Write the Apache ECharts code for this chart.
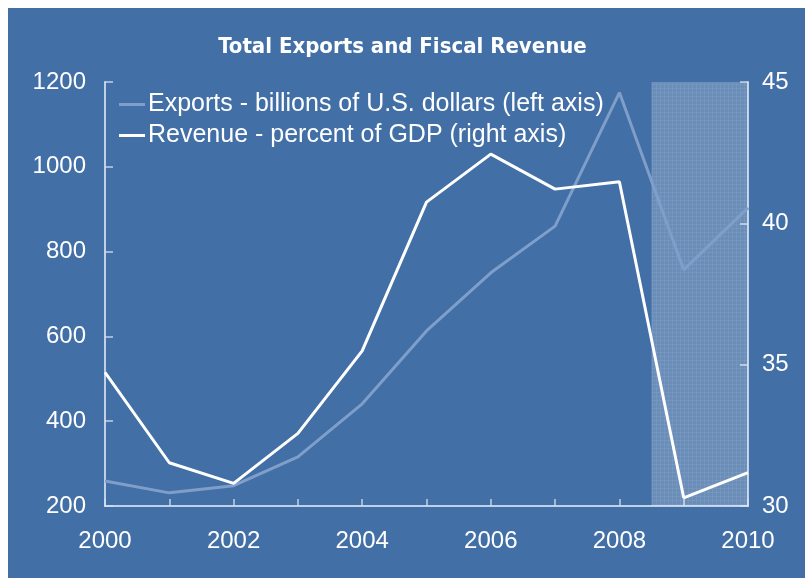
<!DOCTYPE html>
<html>
<head>
<meta charset="utf-8">
<script src="https://cdn.jsdelivr.net/npm/echarts@6/dist/echarts.min.js"></script>
<style>
  html, body { margin: 0; padding: 0; background: #ffffff; }
  #chart { width: 805px; height: 578px; }
</style>
</head>
<body>
<div id="chart"></div>
<script>
// Years on the horizontal axis
const years = [2000, 2001, 2002, 2003, 2004, 2005, 2006, 2007, 2008, 2009, 2010];
// Exports, billions of U.S. dollars (left axis)
const exportsBn = [259, 231, 248, 316, 441, 613, 750, 860, 1175, 757, 903];
// Fiscal revenue, percent of GDP (right axis)
const revenuePct = [34.73, 31.53, 30.80, 32.57, 35.49, 40.75, 42.45, 41.21, 41.47, 30.29, 31.18];
// Projection period shaded on the chart
const shadeRange = [2008.5, 2010];

const seriesNames = [
  'Exports - billions of U.S. dollars (left axis)',
  'Revenue - percent of GDP (right axis)'
];

const bg = '#426fa6';
const axisCol = 'rgba(214,226,242,0.85)';
const fontFam = 'Liberation Sans, Arial, sans-serif';

// fine cross-hatch texture for the shaded band
function makePattern() {
  const c = document.createElement('canvas');
  c.width = 4; c.height = 4;
  const g = c.getContext('2d');
  g.fillStyle = 'rgba(255,255,255,0.22)';
  g.fillRect(0, 0, 4, 4);
  g.fillStyle = 'rgba(255,255,255,0.06)';
  g.fillRect(0, 0, 4, 1);
  g.fillRect(0, 0, 1, 4);
  return c;
}

const chart = echarts.init(document.getElementById('chart'), null, { renderer: 'canvas' });

const toPairs = (vals) => years.map((y, i) => [y, vals[i]]);

chart.setOption({
  animation: false,
  backgroundColor: '#ffffff',
  graphic: [{
    type: 'rect', z: -10, silent: true,
    shape: { x: 8, y: 8, width: 797, height: 570 },
    style: { fill: bg }
  }],
  title: {
    text: 'Total Exports and Fiscal Revenue',
    left: 'center', top: 31,
    textStyle: {
      color: '#ffffff', fontSize: 22, fontWeight: 'bold',
      fontFamily: 'DejaVu Sans Condensed, Liberation Sans, sans-serif'
    }
  },
  legend: {
    orient: 'vertical',
    left: 114, top: 87,
    itemWidth: 26, itemHeight: 3, itemGap: 6,
    icon: 'rect',
    data: seriesNames,
    textStyle: { color: '#ffffff', fontSize: 25, fontFamily: fontFam, padding: [0, 0, 0, -2] }
  },
  grid: { left: 105, right: 57, top: 82, bottom: 72 },
  xAxis: {
    type: 'value', min: 2000, max: 2010, interval: 1,
    axisLine: { show: true, lineStyle: { color: axisCol, width: 2 } },
    axisTick: { show: true, inside: true, length: 7, lineStyle: { color: axisCol, width: 1.5 } },
    splitLine: { show: false },
    axisLabel: {
      color: '#ffffff', fontSize: 24, fontFamily: fontFam, margin: 23,
      formatter: (v) => (v % 2 === 0 ? String(v) : '')
    }
  },
  yAxis: [
    {
      type: 'value', min: 200, max: 1200, interval: 200,
      axisLine: { show: true, lineStyle: { color: axisCol, width: 2 } },
      axisTick: { show: true, inside: true, length: 8, lineStyle: { color: axisCol, width: 1.5 } },
      splitLine: { show: false },
      axisLabel: {
        color: '#ffffff', fontSize: 24, fontFamily: fontFam, margin: 19,
        formatter: (v) => String(v)
      }
    },
    {
      type: 'value', min: 30, max: 45, interval: 5, position: 'right',
      axisLine: { show: true, lineStyle: { color: axisCol, width: 2 } },
      axisTick: { show: true, inside: true, length: 8, lineStyle: { color: axisCol, width: 1.5 } },
      splitLine: { show: false },
      axisLabel: {
        color: '#ffffff', fontSize: 24, fontFamily: fontFam, margin: 14,
        formatter: (v) => String(v)
      }
    }
  ],
  series: [
    {
      name: seriesNames[0], type: 'line', yAxisIndex: 0,
      data: toPairs(exportsBn),
      symbol: 'none',
      lineStyle: { color: '#7f9fca', width: 3 },
      itemStyle: { color: '#7f9fca' },
      z: 2,
      markArea: {
        silent: true,
        itemStyle: { color: { image: makePattern(), repeat: 'repeat' } },
        data: [[{ xAxis: shadeRange[0] }, { xAxis: shadeRange[1] }]]
      }
    },
    {
      name: seriesNames[1], type: 'line', yAxisIndex: 1,
      data: toPairs(revenuePct),
      symbol: 'none',
      lineStyle: { color: '#ffffff', width: 3 },
      itemStyle: { color: '#ffffff' },
      z: 3
    }
  ]
});
</script>
</body>
</html>
